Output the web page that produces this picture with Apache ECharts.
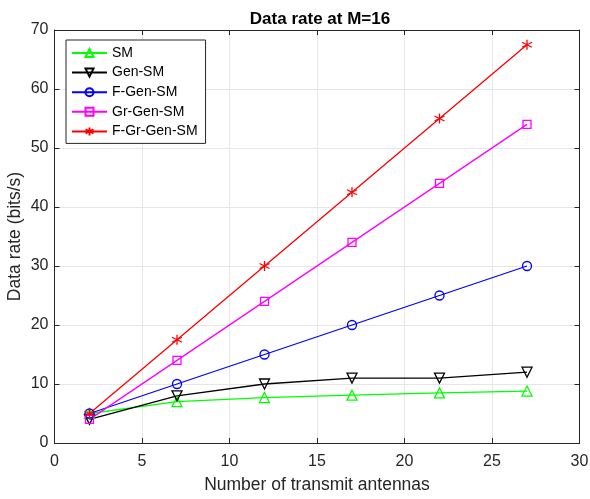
<!DOCTYPE html>
<html><head><meta charset="utf-8">
<script src="https://cdn.jsdelivr.net/npm/echarts@6/dist/echarts.min.js"></script>
<style>html,body{margin:0;padding:0;background:#fff}#c{width:590px;height:499px}</style>
</head><body><div id="c"></div>
<script>
var antennas = [2, 7, 12, 17, 22, 27];
var sm = [5, 7, 7.7, 8.1, 8.5, 8.8];
var genSm = [4, 8, 10, 11, 11, 12];
var fGenSm = [5, 10, 15, 20, 25, 30];
var grGenSm = [4, 14, 24, 34, 44, 54];
var fGrGenSm = [5, 17.5, 30, 42.5, 55, 67.5];
var xTicks = [0, 5, 10, 15, 20, 25, 30];
var yTicks = [0, 10, 20, 30, 40, 50, 60, 70];

function pts(ys){ return antennas.map(function(x,i){ return [x, ys[i]]; }); }
var FONT = 'Liberation Sans, Arial, sans-serif';
var star = 'path://M0,-10L0,10M-8.66,-5L8.66,5M-8.66,5L8.66,-5';

function mk(name, data, color, symbol, size, rot){
  return {
    name: name, type: 'line', data: pts(data), xAxisIndex: 0, yAxisIndex: 0,
    symbol: symbol, symbolSize: size, symbolRotate: rot || 0, showAllSymbol: true,
    lineStyle: {color: color, width: 1.3},
    itemStyle: {color: 'rgba(0,0,0,0)', borderColor: color, borderWidth: 1.3},
    emphasis: {disabled: true}, animation: false
  };
}
var chart = echarts.init(document.getElementById('c'), null, {renderer: 'canvas'});
var axisCommon = {
  axisLine: {show: true, onZero: false, lineStyle: {color: '#262626', width: 1}},
  axisTick: {show: true, inside: true, length: 5, lineStyle: {color: '#262626'}},
};
chart.setOption({
  backgroundColor: '#fff',
  animation: false,
  title: {text: 'Data rate at M=16', left: 315, top: 6, textAlign: 'center',
    textStyle: {fontFamily: FONT, fontSize: 17, fontWeight: 'bold', color: '#000'}},
  grid: {left: 54.5, right: 10.5, top: 30, bottom: 56, outerBoundsMode: 'none', containLabel: false},
  legend: {
    left: 66, top: 40, orient: 'vertical', itemWidth: 35, itemHeight: 10, itemGap: 5.6,
    padding: [6, 8, 5, 5], backgroundColor: '#fff', borderColor: '#262626', borderWidth: 1,
    borderRadius: 0,
    textStyle: {fontFamily: FONT, fontSize: 14, color: '#000', lineHeight: 14},
    data: ['SM', 'Gen-SM', 'F-Gen-SM', 'Gr-Gen-SM', 'F-Gr-Gen-SM']
  },
  xAxis: [
    Object.assign({type: 'value', min: 0, max: 30, interval: 5, position: 'bottom',
      name: 'Number of transmit antennas', nameLocation: 'middle', nameGap: 33, nameMoveOverlap: false,
      nameTextStyle: {fontFamily: FONT, fontSize: 17.5, color: '#262626'},
      axisLabel: {fontFamily: FONT, fontSize: 16, color: '#262626', margin: 11},
      splitLine: {show: true, lineStyle: {color: '#e6e6e6', width: 1}}}, axisCommon),
    Object.assign({type: 'value', min: 0, max: 30, interval: 5, position: 'top',
      axisLabel: {show: false}, splitLine: {show: false}}, axisCommon)
  ],
  yAxis: [
    Object.assign({type: 'value', min: 0, max: 70, interval: 10, position: 'left',
      name: 'Data rate (bits/s)', nameLocation: 'middle', nameGap: 30, nameMoveOverlap: false,
      nameTextStyle: {fontFamily: FONT, fontSize: 17.5, color: '#262626'},
      axisLabel: {fontFamily: FONT, fontSize: 16, color: '#262626', margin: 6},
      splitLine: {show: true, lineStyle: {color: '#e6e6e6', width: 1}}}, axisCommon),
    Object.assign({type: 'value', min: 0, max: 70, interval: 10, position: 'right',
      axisLabel: {show: false}, splitLine: {show: false}}, axisCommon)
  ],
  series: [
    mk('SM', sm, '#00ff00', 'triangle', 10),
    mk('Gen-SM', genSm, '#000000', 'triangle', 10, 180),
    mk('F-Gen-SM', fGenSm, '#0000ff', 'circle', 9),
    mk('Gr-Gen-SM', grGenSm, '#ff00ff', 'rect', 8),
    mk('F-Gr-Gen-SM', fGrGenSm, '#ff0000', star, 10)
  ]
});
</script></body></html>
